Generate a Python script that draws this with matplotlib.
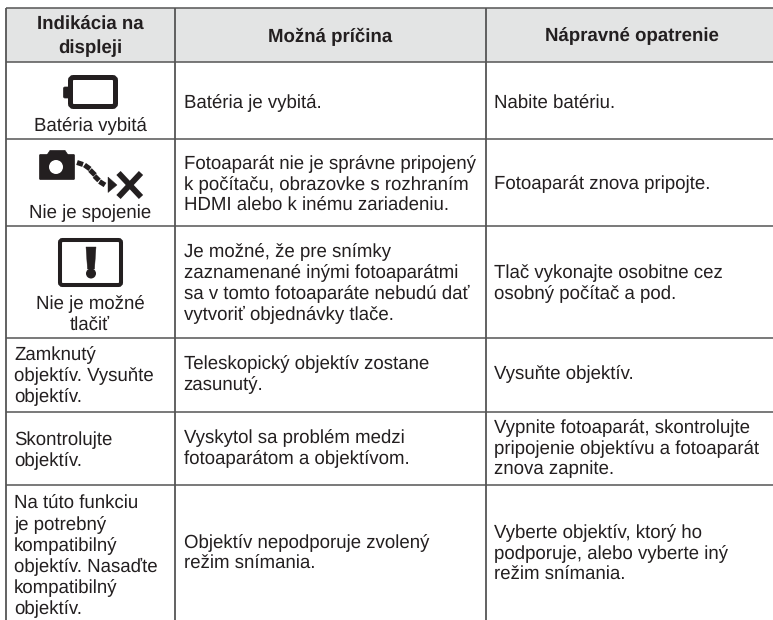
import numpy as np
import matplotlib
matplotlib.use("Agg")
from matplotlib import pyplot as plt
from matplotlib.patches import FancyBboxPatch, Rectangle, Circle, Polygon

# obsah tabulky
headers = ["Indikácia na\ndispleji", "Možná príčina", "Nápravné opatrenie"]
col1 = ["Batéria vybitá", "Nie je spojenie", "Nie je možné\ntlačiť",
        "Zamknutý\nobjektív. Vysuňte\nobjektív.", "Skontrolujte\nobjektív.",
        "Na túto funkciu\nje potrebný\nkompatibilný\nobjektív. Nasaďte\nkompatibilný\nobjektív."]
col2 = ["Batéria je vybitá.",
        "Fotoaparát nie je správne pripojený\nk počítaču, obrazovke s rozhraním\nHDMI alebo k inému zariadeniu.",
        "Je možné, že pre snímky\nzaznamenané inými fotoaparátmi\nsa v tomto fotoaparáte nebudú dať\nvytvoriť objednávky tlače.",
        "Teleskopický objektív zostane\nzasunutý.",
        "Vyskytol sa problém medzi\nfotoaparátom a objektívom.",
        "Objektív nepodporuje zvolený\nrežim snímania."]
col3 = ["Nabite batériu.", "Fotoaparát znova pripojte.",
        "Tlač vykonajte osobitne cez\nosobný počítač a pod.", "Vysuňte objektív.",
        "Vypnite fotoaparát, skontrolujte\npripojenie objektívu a fotoaparát\nznova zapnite.",
        "Vyberte objektív, ktorý ho\npodporuje, alebo vyberte iný\nrežim snímania."]

row_lines = [8, 62, 138.5, 226, 338, 412, 485]
col_lines = [6, 175, 486]
col1_y = [126.5, 213.5, 314, 376, 451, 556.5]
text_y = [103.5, 184.5, 283.5, 374.5, 448.5, 553.5]
W, H = 773, 620
LINE = "#555555"
TXT = "#231f20"

plt.rcParams['font.family'] = ['Liberation Sans', 'DejaVu Sans']
plt.rcParams['text.hinting'] = 'no_hinting'
fig = plt.figure(figsize=(W / 100, H / 100), dpi=100)
ax = fig.add_axes([0, 0, 1, 1])
ax.set_xlim(0, W)
ax.set_ylim(H, 0)
ax.axis('off')

# hlavicka
ax.add_patch(Rectangle((col_lines[0], row_lines[0]), W - col_lines[0], row_lines[1] - row_lines[0],
                       fc="#e3e4e4", ec="none"))
for y in row_lines:
    ax.plot([col_lines[0], W], [y, y], color=LINE, lw=1.1, solid_capstyle='butt')
for x in col_lines:
    ax.plot([x, x], [row_lines[0], H], color=LINE, lw=1.3, solid_capstyle='butt')

fs = 13.4
sp = 1.22
col_mid = [90, 330, 632]

ax.text(col_mid[0], 36.5, headers[0], ha='center', va='center', fontsize=fs, fontweight='bold',
        color=TXT, linespacing=1.4)
ax.text(col_mid[1], 36.5, headers[1], ha='center', va='center', fontsize=fs, fontweight='bold', color=TXT)
ax.text(col_mid[2], 36.5, headers[2], ha='center', va='center', fontsize=fs, fontweight='bold', color=TXT)

for i, (a, b, c) in enumerate(zip(col1, col2, col3)):
    if i < 3:
        ax.text(col_mid[0], col1_y[i], a, ha='center', va='center', fontsize=fs, color=TXT, linespacing=sp)
    else:
        ax.text(14, col1_y[i], a, ha='left', va='center', fontsize=fs, color=TXT, linespacing=sp)
    ax.text(183.5, text_y[i], b, ha='left', va='center', fontsize=fs, color=TXT, linespacing=sp)
    ax.text(493.5, text_y[i], c, ha='left', va='center', fontsize=fs, color=TXT, linespacing=sp)

K = "#231f20"
# ikona bateria
ax.add_patch(FancyBboxPatch((70.5, 77.5), 45, 29, boxstyle="round,pad=0,rounding_size=3", fc="white", ec=K, lw=3.6))
ax.add_patch(FancyBboxPatch((63.5, 87), 6, 11, boxstyle="round,pad=0,rounding_size=1.5", fc=K, ec=K, lw=0.5))

# ikona fotoaparat
ax.add_patch(FancyBboxPatch((39.5, 154.5), 35, 25, boxstyle="round,pad=0,rounding_size=1", fc=K, ec=K, lw=0.5))
ax.add_patch(Polygon([[47, 155], [50, 150.5], [65, 150.5], [68, 155]], fc=K, ec=K, lw=0.5))
ax.add_patch(Circle((56, 167), 7, fc="white", ec="none"))
dash_x = [[77, 83], [84.5, 90], [90, 95], [94.5, 99], [99.5, 105]]
dash_y = [[162.5, 164.5], [165, 169], [170, 175], [176, 180.5], [181.5, 185]]
for dx, dy in zip(dash_x, dash_y):
    ax.plot(dx, dy, color=K, lw=3.6, solid_capstyle='butt')
ax.add_patch(Polygon([[108, 177], [117, 185], [108, 192.5]], fc=K, ec=K, lw=0.3))
ax.plot([118.5, 141], [173, 197], color=K, lw=4.2, solid_capstyle='butt')
ax.plot([141, 118.5], [173, 197], color=K, lw=4.2, solid_capstyle='butt')

# ikona vykricnik
ax.add_patch(FancyBboxPatch((60, 240), 61, 45, boxstyle="round,pad=0,rounding_size=2.5", fc="white", ec=K, lw=2.9))
ax.add_patch(Polygon([[86, 247], [96, 247], [94.5, 269], [87.5, 269]], fc=K, ec=K, lw=0.3))
ax.add_patch(Circle((91, 273.5), 5, fc=K, ec="none"))

fig.savefig("out.png", dpi=100)
